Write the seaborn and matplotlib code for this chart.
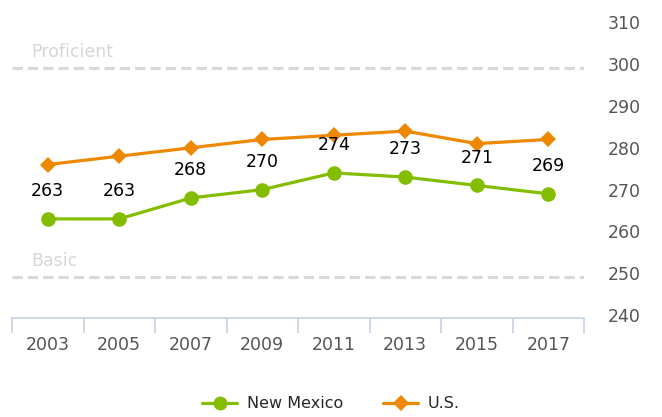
import matplotlib
matplotlib.use("Agg")
import matplotlib.pyplot as plt
from matplotlib.lines import Line2D
import seaborn as sns
import pandas as pd

years = ["2003", "2005", "2007", "2009", "2011", "2013", "2015", "2017"]
new_mexico = [263, 263, 268, 270, 274, 273, 271, 269]
us = [276, 278, 280, 282, 283, 284, 281, 282]
levels = {"Proficient": 299, "Basic": 249}
y_ticks = [240, 250, 260, 270, 280, 290, 300, 310]

GREEN = "#84BD00"
ORANGE = "#EE8800"

df = pd.DataFrame({
    "year": years * 2,
    "score": new_mexico + us,
    "series": ["New Mexico"] * len(years) + ["U.S."] * len(years),
})

sns.set_style("white")
plt.rcParams["font.family"] = ["DejaVu Sans"]

fig = plt.figure(figsize=(6.62, 4.17), dpi=100)
ax = fig.add_axes([12 / 662, (417 - 318) / 417, (584 - 12) / 662, (318 - 14) / 417])

# level lines
for name, val in levels.items():
    ax.axhline(val, color="#D9D9D9", lw=2.3, ls=(0, (3.2, 1.6)), zorder=1,
               xmin=0, xmax=1)
    ax.annotate(name, (-0.5, val), xytext=(14, 5), textcoords="offset points",
                color="#D6D6D6", fontsize=12.5, ha="left", va="bottom")

sns.lineplot(data=df, x="year", y="score", hue="series", style="series",
             markers={"New Mexico": "o", "U.S.": "D"}, dashes=False,
             palette={"New Mexico": GREEN, "U.S.": ORANGE},
             hue_order=["U.S.", "New Mexico"],
             linewidth=2.3, markersize=10.5, markeredgewidth=0,
             legend=False, ax=ax, zorder=3, sort=False)

for line in ax.lines:
    if line.get_marker() == "D":
        line.set_markersize(8.5)

for i, v in enumerate(new_mexico):
    ax.annotate(str(v), (i, v), xytext=(0, 20), textcoords="offset points",
                ha="center", va="center", fontsize=12.5, color="black", zorder=5)

ax.set_xlim(-0.5, len(years) - 0.5)
ax.set_ylim(239.3, 312)
ax.set_xlabel("")
ax.set_ylabel("")

ax.yaxis.tick_right()
ax.set_yticks(y_ticks)
ax.set_yticklabels([str(t) for t in y_ticks])
ax.tick_params(axis="y", length=0, pad=17, labelsize=12.5, labelcolor="#555555")

ax.set_xticks(range(len(years)))
ax.set_xticklabels(years)
ax.set_xticks([i - 0.5 for i in range(len(years) + 1)], minor=True)
ax.tick_params(axis="x", which="major", bottom=True, length=0, pad=13, labelsize=12.5,
               labelcolor="#555555")
ax.tick_params(axis="x", which="minor", bottom=True, length=11, width=1.3,
               color="#C8D6E6", direction="out")

for side in ["top", "right", "left"]:
    ax.spines[side].set_visible(False)
ax.spines["bottom"].set_color("#C8D6E6")
ax.spines["bottom"].set_linewidth(1.3)

handles = [
    Line2D([0], [0], color=GREEN, lw=2.3, marker="o", markersize=10, markeredgewidth=0),
    Line2D([0], [0], color=ORANGE, lw=2.3, marker="D", markersize=8, markeredgewidth=0),
]
fig.legend(handles, ["New Mexico", "U.S."], loc="center", bbox_to_anchor=(0.5, 13 / 417),
           ncol=2, frameon=False, fontsize=11.5, handlelength=2.2, columnspacing=2.5,
           handletextpad=0.6)

fig.savefig("out.png", dpi=100)
